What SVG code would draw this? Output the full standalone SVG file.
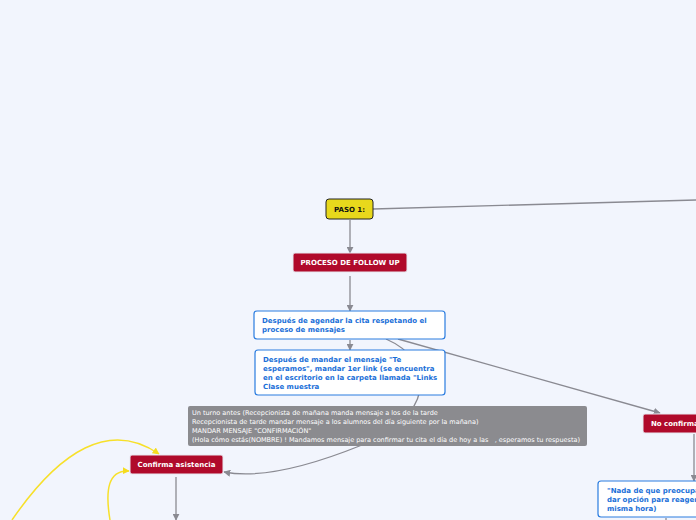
<svg xmlns="http://www.w3.org/2000/svg" width="696" height="520" viewBox="0 0 696 520">
<defs>
<marker id="ah" viewBox="0 0 10 10" refX="9" refY="5" markerWidth="7" markerHeight="7" markerUnits="userSpaceOnUse" orient="auto"><path d="M0,0 L10,5 L0,10 z" fill="#8a8a92"/></marker>
<marker id="ay" viewBox="0 0 10 10" refX="9" refY="5" markerWidth="7" markerHeight="7" markerUnits="userSpaceOnUse" orient="auto"><path d="M0,0 L10,5 L0,10 z" fill="#f5dc1e"/></marker>
</defs>
<style>
.c{fill:none;stroke:#8a8a92;stroke-width:1.3}
.y{fill:none;stroke:#f7e02a;stroke-width:1.5}
.red{fill:#b00a2b;stroke:#e8e8f0;stroke-width:1}
.wt{fill:#ffffff;font-family:"DejaVu Sans",sans-serif;font-size:7px;font-weight:bold}
.bl{fill:#ffffff;stroke:#2a7ce0;stroke-width:1.2}
.bt{fill:#1a6fd8;font-family:"DejaVu Sans",sans-serif;font-size:7px;font-weight:bold}
.nt{fill:#ffffff;font-family:"DejaVu Sans",sans-serif;font-size:6.5px}
</style>
<rect width="696" height="520" fill="#f2f5fd"/>
<g id="connectors">
<path class="c" d="M373,209 L696,200"/>
<path class="c" d="M350,220 L350,253" marker-end="url(#ah)"/>
<path class="c" d="M350,276 L350,311" marker-end="url(#ah)"/>
<path class="c" d="M350,340 L350,350" marker-end="url(#ah)"/>
<path class="c" d="M398,339 L660,413" marker-end="url(#ah)"/>
<path class="c" d="M386,339 C440,362 430,420 362,445 C320,462 265,480 224,472" marker-end="url(#ah)"/>
<path class="c" d="M176,477 L176,520" marker-end="url(#ah)"/>
<path class="c" d="M694,434 L694,481" marker-end="url(#ah)"/>
<path class="c" d="M666,518 L666,520"/>
<path class="y" d="M12,520 C60,450 110,420 159,454" marker-end="url(#ay)"/>
<path class="y" d="M110,520 C105,490 108,470 129,471" marker-end="url(#ay)"/>
</g>
<g id="paso1">
<rect x="326" y="199" width="47" height="20" rx="3" fill="#e8d81c" stroke="#222" stroke-width="1"/>
<text x="349.5" y="212" text-anchor="middle" style="fill:#111;font-family:'DejaVu Sans',sans-serif;font-size:7px;font-weight:bold">PASO 1:</text>
</g>
<g id="proceso">
<rect class="red" x="293" y="253" width="114" height="19" rx="2"/>
<text class="wt" x="350" y="265" text-anchor="middle">PROCESO DE FOLLOW UP</text>
</g>
<g id="box1">
<rect class="bl" x="254" y="311" width="191" height="28" rx="3"/>
<text class="bt" x="262" y="323">Después de agendar la cita respetando el</text>
<text class="bt" x="262" y="332">proceso de mensajes</text>
</g>
<g id="box2">
<rect class="bl" x="255" y="350" width="190" height="45" rx="3"/>
<text class="bt" x="263" y="362">Después de mandar el mensaje "Te</text>
<text class="bt" x="263" y="371">esperamos", mandar 1er link (se encuentra</text>
<text class="bt" x="263" y="380">en el escritorio en la carpeta llamada "Links</text>
<text class="bt" x="263" y="389">Clase muestra</text>
</g>
<g id="note">
<rect x="188" y="406" width="399" height="40" rx="2" fill="#8b8b8f"/>
<text class="nt" x="192" y="415">Un turno antes (Recepcionista de mañana manda mensaje a los de la tarde</text>
<text class="nt" x="192" y="424">Recepcionista de tarde mandar mensaje a los alumnos del día siguiente por la mañana)</text>
<text class="nt" x="192" y="433">MANDAR MENSAJE "CONFIRMACIÓN"</text>
<text class="nt" x="192" y="442">(Hola cómo estás(NOMBRE) ! Mandamos mensaje para confirmar tu cita el día de hoy a las&#160;&#160;&#160;, esperamos tu respuesta)</text>
</g>
<g id="confirma">
<rect class="red" x="130" y="455" width="93" height="19" rx="2"/>
<text class="wt" x="176.5" y="467" text-anchor="middle">Confirma asistencia</text>
</g>
<g id="noconfirma">
<rect class="red" x="643" y="414" width="60" height="19" rx="2"/>
<text class="wt" x="651" y="426">No confirma</text>
</g>
<g id="nada">
<rect class="bl" x="598" y="481" width="110" height="36" rx="3"/>
<text class="bt" x="607" y="493">"Nada de que preocupa</text>
<text class="bt" x="607" y="502">dar opción para reagen</text>
<text class="bt" x="607" y="511">misma hora)</text>
</g>
</svg>
